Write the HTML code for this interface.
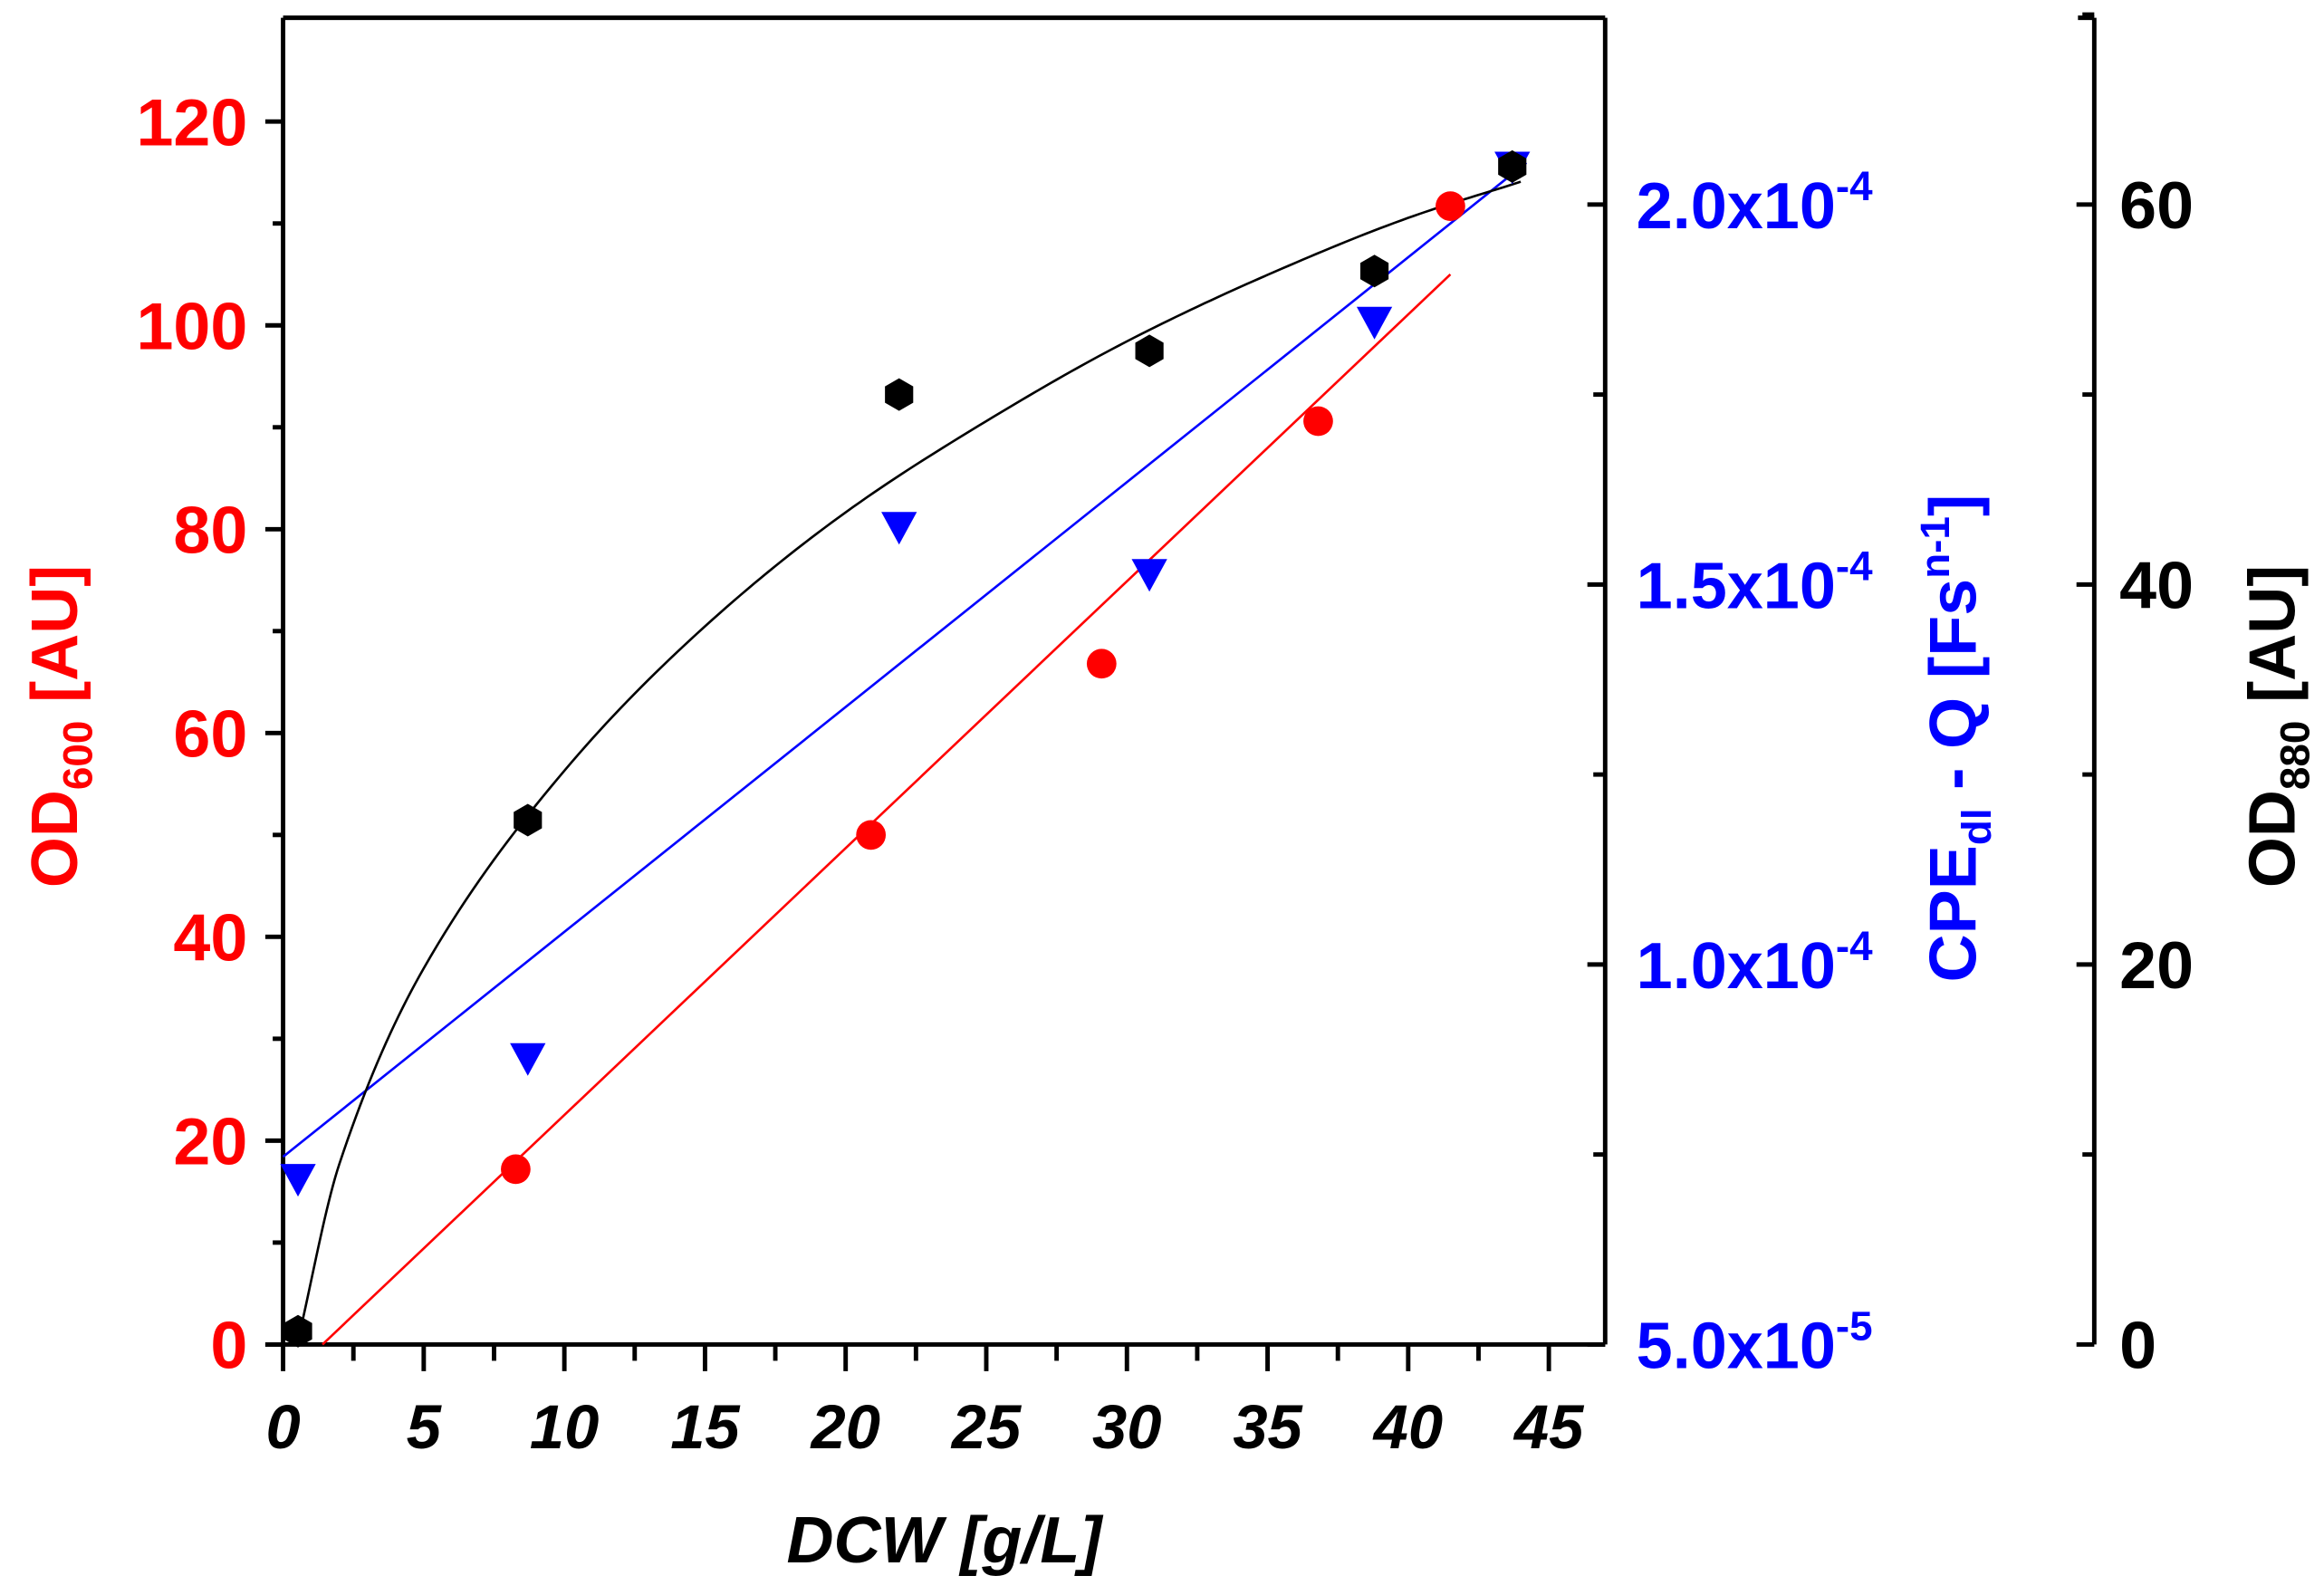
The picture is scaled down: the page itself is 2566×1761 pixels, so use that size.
<!DOCTYPE html>
<html><head><meta charset="utf-8"><style>
html,body{margin:0;padding:0;background:#fff}
svg{display:block}
text{font-family:"Liberation Sans",Arial,sans-serif;font-weight:bold}
</style></head><body>
<svg id="chart" width="2566" height="1761" viewBox="0 0 1568 1076" preserveAspectRatio="none" xmlns="http://www.w3.org/2000/svg">
<g id="axes"></g>
<g id="marks"></g>
<text x="637" y="1054" font-size="44" font-style="italic" text-anchor="middle">DCW [g/L]</text>
<text transform="translate(52,490) rotate(-90)" font-size="44" fill="#ff0000" text-anchor="middle">OD<tspan font-size="28" dy="10">600</tspan><tspan dy="-10"> [AU]</tspan></text>
<text transform="translate(1333,498) rotate(-90)" font-size="45" fill="#0000ff" text-anchor="middle">CPE<tspan font-size="28" dy="10">dl</tspan><tspan dy="-10"> - Q [Fs</tspan><tspan font-size="28" dy="-18">n-1</tspan><tspan dy="18">]</tspan></text>
<text transform="translate(1548,490) rotate(-90)" font-size="44" fill="#000" text-anchor="middle">OD<tspan font-size="28" dy="10">880</tspan><tspan dy="-10"> [AU]</tspan></text>
</svg>
<script>
// data
const redX = [8.27, 20.9, 29.1, 36.8, 41.5];
const redY = [17.2, 50.0, 66.8, 90.6, 111.7];
const redFitX = [1.4, 41.5];
const redFitY = [0, 105];
const blueX = [0.53, 8.7, 21.9, 30.8, 38.8, 43.7];
const blueY = [7.18e-5, 8.77e-5, 1.576e-4, 1.514e-4, 1.846e-4, 2.05e-4];
const blueFitX = [0, 44.2];
const blueFitY = [7.47e-5, 2.055e-4];
const blackX = [0.53, 8.7, 21.9, 30.8, 38.8, 43.7];
const blackY = [0.7, 27.6, 50.0, 52.3, 56.5, 62.0];
const blackFitX = [0.5, 2, 5, 10, 15, 20, 25, 30, 35, 40, 44];
const blackFitY = [0, 9.5, 19.8, 30.2, 37.8, 43.8, 48.6, 52.8, 56.3, 59.3, 61.2];
const xTicks = [0,5,10,15,20,25,30,35,40,45];
const leftTicks = [0,20,40,60,80,100,120];
const blueTicks = [5e-5,1e-4,1.5e-4,2e-4];
const blueTickLabels = ["5.0x10","1.0x10","1.5x10","2.0x10"];
const blueTickExp = ["-5","-4","-4","-4"];
const rightTicks = [0,20,40,60];

// scales
const X0=191, X1=1045, XB=907;
const sx = v => X0 + (X1-X0)*v/45;
const syL = v => XB - (XB-82)*v/120;
const syB = v => XB - (XB-138)*(v-5e-5)/1.5e-4;
const syR = v => XB - (XB-138)*v/60;

const NS="http://www.w3.org/2000/svg";
const axes=document.getElementById('axes'), marks=document.getElementById('marks');
function mk(tag, attrs, parent){const e=document.createElementNS(NS,tag);for(const k in attrs)e.setAttribute(k,attrs[k]);parent.appendChild(e);return e;}
function line(x1,y1,x2,y2,w,c,p){return mk('line',{x1,y1,x2,y2,'stroke-width':w,stroke:c},p);}

let e;
e=line(X0,12,X0,XB,3,'#000',axes);


e=line(X0-12,XB,1083,XB,3,'#000',axes);


e=line(X0,12,1083,12,3,'#000',axes);


e=line(1083,12,1083,XB,3,'#000',axes);


e=line(1413,12,1413,XB,3,'#000',axes);


line(1402,12,1413,12,3,'#000',axes);

for(let i=0;i<xTicks.length;i++){
  const x=sx(xTicks[i]);
  line(x,XB,x,XB+18,3,'#000',axes);
  if(i<xTicks.length-1){const xm=sx(xTicks[i]+2.5);line(xm,XB,xm,XB+11,3,'#000',axes);}
  const t=mk('text',{x:x,y:XB+70,'font-size':42,'font-style':'italic','text-anchor':'middle'},axes);
  
  
  t.textContent=xTicks[i];
}
for(let i=0;i<leftTicks.length;i++){
  const y=syL(leftTicks[i]);
  line(X0-12,y,X0,y,3,'#000',axes);
  if(i<leftTicks.length-1){const ym=syL(leftTicks[i]+10);line(X0-7,ym,X0,ym,3,'#000',axes);}
  const t=mk('text',{x:X0-24,y:y+16,'font-size':45,fill:'#ff0000','text-anchor':'end'},axes);
  
  
  t.textContent=leftTicks[i];
}
for(let i=0;i<blueTicks.length;i++){
  const y=syB(blueTicks[i]);
  line(1071,y,1083,y,3,'#000',axes);
  if(i<blueTicks.length-1){const ym=syB(blueTicks[i]+2.5e-5);line(1075,ym,1083,ym,3,'#000',axes);}
  const t=mk('text',{x:1104,y:y+16,'font-size':44,fill:'#0000ff'},axes);
  
  
  t.textContent=blueTickLabels[i];
  const s=mk('tspan',{'font-size':28,dy:-19},t);s.textContent=blueTickExp[i];
}
for(let i=0;i<rightTicks.length;i++){
  const y=syR(rightTicks[i]);
  line(1401,y,1413,y,3,'#000',axes);
  const ym=syR(rightTicks[i]+10);line(1405,ym,1413,ym,3,'#000',axes);
  const t=mk('text',{x:1430,y:y+16,'font-size':45,fill:'#000'},axes);
  
  
  t.textContent=rightTicks[i];
}

e=mk('polyline',{points:redFitX.map((v,i)=>sx(v)+','+syL(redFitY[i])).join(' '),fill:'none',stroke:'#ff0000','stroke-width':1.6},marks);


e=mk('polyline',{points:blueFitX.map((v,i)=>sx(v)+','+syB(blueFitY[i])).join(' '),fill:'none',stroke:'#0000ff','stroke-width':1.6},marks);



// monotone cubic through black fit points (data space)
(function(){
  const xs=blackFitX, ys=blackFitY, n=xs.length;
  const dl=[], m=[];
  for(let i=0;i<n-1;i++) dl.push((ys[i+1]-ys[i])/(xs[i+1]-xs[i]));
  m[0]=dl[0]; m[n-1]=dl[n-2];
  for(let i=1;i<n-1;i++){ m[i]=(dl[i-1]*dl[i]<=0)?0:2/(1/dl[i-1]+1/dl[i]); }
  const pts=[];
  for(let i=0;i<n-1;i++){
    const h=xs[i+1]-xs[i];
    for(let s=0;s<20;s++){
      const t=s/20, t2=t*t, t3=t2*t;
      const y=(2*t3-3*t2+1)*ys[i]+(t3-2*t2+t)*h*m[i]+(-2*t3+3*t2)*ys[i+1]+(t3-t2)*h*m[i+1];
      pts.push(sx(xs[i]+t*h).toFixed(2)+','+syR(y).toFixed(2));
    }
  }
  pts.push(sx(xs[n-1])+','+syR(ys[n-1]));
  const c=mk('polyline',{points:pts.join(' '),fill:'none',stroke:'#000','stroke-width':1.6},marks);
  
  
})();

for(let i=0;i<redX.length;i++){
  e=mk('circle',{cx:sx(redX[i]),cy:syL(redY[i]),r:10,fill:'#ff0000'},marks);
  
  
}
for(let i=0;i<blueX.length;i++){
  const x=sx(blueX[i]),y=syB(blueY[i]);
  e=mk('polygon',{points:(x-12)+','+(y-10)+' '+(x+12)+','+(y-10)+' '+x+','+(y+12),fill:'#0000ff'},marks);
  
  
}
for(let i=0;i<blackX.length;i++){
  const x=sx(blackX[i]),y=syR(blackY[i]);let pts=[];
  for(let k=0;k<6;k++){const a=Math.PI/6+k*Math.PI/3;pts.push((x+11*Math.cos(a))+','+(y+11*Math.sin(a)));}
  e=mk('polygon',{points:pts.join(' '),fill:'#000'},marks);
  
  
}
</script>
</body></html>
